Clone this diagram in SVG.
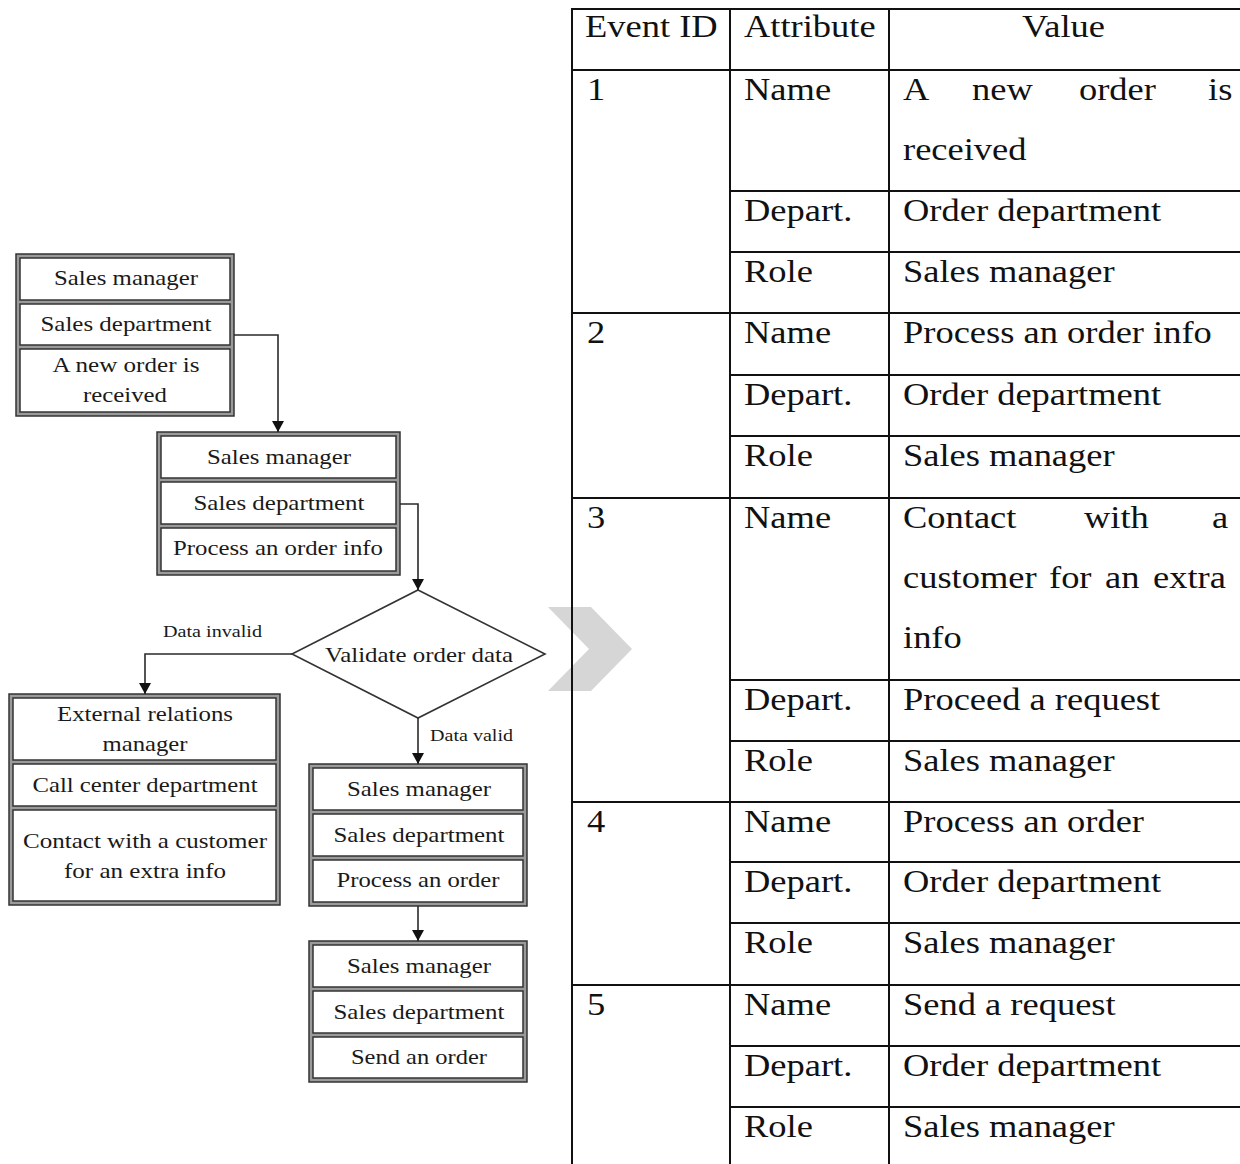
<svg xmlns="http://www.w3.org/2000/svg" width="1240" height="1164" viewBox="0 0 1240 1164">
<defs>
<style>
.frame{fill:#9a9a9a;stroke:#333;stroke-width:1.5}
.cell{fill:#fff;stroke:#333;stroke-width:1.5}
.ft{font-family:"Liberation Serif","Times New Roman",serif;font-size:21px;fill:#1a1a1a;text-anchor:middle}
.lbl{font-family:"Liberation Serif","Times New Roman",serif;font-size:17px;fill:#1a1a1a}
.conn{fill:none;stroke:#2a2a2a;stroke-width:1.6}
.tl{stroke:#111;stroke-width:2}
.tt{font-family:"Liberation Serif","Times New Roman",serif;font-size:32px;fill:#111}
</style>
<marker id="arr" markerUnits="userSpaceOnUse" markerWidth="12" markerHeight="12" refX="11" refY="6" orient="auto">
<path d="M0,0 L11,6 L0,12 z" fill="#111"/>
</marker>
</defs>
<rect width="1240" height="1164" fill="#fff"/>

<g id="node1">
<rect class="frame" x="16" y="254" width="218" height="162"/>
<rect class="cell" x="20" y="258" width="210" height="42"/>
<rect class="cell" x="20" y="304" width="210" height="41"/>
<rect class="cell" x="20" y="349" width="210" height="63"/>
<text class="ft" x="126" y="285" textLength="144" lengthAdjust="spacingAndGlyphs">Sales manager</text>
<text class="ft" x="126" y="331" textLength="171" lengthAdjust="spacingAndGlyphs">Sales department</text>
<text class="ft" x="126" y="372" textLength="147" lengthAdjust="spacingAndGlyphs">A new order is</text>
<text class="ft" x="125" y="402" textLength="84" lengthAdjust="spacingAndGlyphs">received</text>
</g>

<g id="node2">
<rect class="frame" x="157" y="432" width="243" height="143"/>
<rect class="cell" x="161" y="436" width="235" height="42"/>
<rect class="cell" x="161" y="482" width="235" height="42"/>
<rect class="cell" x="161" y="528" width="235" height="43"/>
<text class="ft" x="279" y="464" textLength="144" lengthAdjust="spacingAndGlyphs">Sales manager</text>
<text class="ft" x="279" y="510" textLength="171" lengthAdjust="spacingAndGlyphs">Sales department</text>
<text class="ft" x="278" y="555" textLength="210" lengthAdjust="spacingAndGlyphs">Process an order info</text>
</g>

<g id="decision">
<polygon points="418,590 545,654 418,718 292,654" fill="#fff" stroke="#333" stroke-width="1.6"/>
<text class="ft" x="419" y="662" textLength="188" lengthAdjust="spacingAndGlyphs">Validate order data</text>
</g>

<g id="node3">
<rect class="frame" x="9" y="694" width="271" height="211"/>
<rect class="cell" x="13" y="698" width="263" height="62"/>
<rect class="cell" x="13" y="764" width="263" height="42"/>
<rect class="cell" x="13" y="810" width="263" height="91"/>
<text class="ft" x="145" y="721" textLength="176" lengthAdjust="spacingAndGlyphs">External relations</text>
<text class="ft" x="145" y="751" textLength="85" lengthAdjust="spacingAndGlyphs">manager</text>
<text class="ft" x="145" y="792" textLength="225" lengthAdjust="spacingAndGlyphs">Call center department</text>
<text class="ft" x="145" y="848" textLength="244" lengthAdjust="spacingAndGlyphs">Contact with a customer</text>
<text class="ft" x="145" y="878" textLength="162" lengthAdjust="spacingAndGlyphs">for an extra info</text>
</g>

<g id="node4">
<rect class="frame" x="309" y="764" width="218" height="142"/>
<rect class="cell" x="313" y="768" width="210" height="42"/>
<rect class="cell" x="313" y="814" width="210" height="42"/>
<rect class="cell" x="313" y="860" width="210" height="42"/>
<text class="ft" x="419" y="796" textLength="144" lengthAdjust="spacingAndGlyphs">Sales manager</text>
<text class="ft" x="419" y="842" textLength="171" lengthAdjust="spacingAndGlyphs">Sales department</text>
<text class="ft" x="418" y="887" textLength="163" lengthAdjust="spacingAndGlyphs">Process an order</text>
</g>

<g id="node5">
<rect class="frame" x="309" y="941" width="218" height="141"/>
<rect class="cell" x="313" y="945" width="210" height="42"/>
<rect class="cell" x="313" y="991" width="210" height="42"/>
<rect class="cell" x="313" y="1037" width="210" height="41"/>
<text class="ft" x="419" y="973" textLength="144" lengthAdjust="spacingAndGlyphs">Sales manager</text>
<text class="ft" x="419" y="1019" textLength="171" lengthAdjust="spacingAndGlyphs">Sales department</text>
<text class="ft" x="419" y="1064" textLength="136" lengthAdjust="spacingAndGlyphs">Send an order</text>
</g>

<g id="connectors">
<path class="conn" d="M234,335 H278 V432" marker-end="url(#arr)"/>
<path class="conn" d="M400,504 H418 V590" marker-end="url(#arr)"/>
<path class="conn" d="M292,654 H145 V694" marker-end="url(#arr)"/>
<path class="conn" d="M418,718 V764" marker-end="url(#arr)"/>
<path class="conn" d="M418,906 V941" marker-end="url(#arr)"/>
<text class="lbl" x="163" y="637" textLength="99" lengthAdjust="spacingAndGlyphs">Data invalid</text>
<text class="lbl" x="430" y="741" textLength="83" lengthAdjust="spacingAndGlyphs">Data valid</text>
</g>

<g id="chevron">
<polygon points="548,607 591,607 632,649 591,691 548,691 589,649" fill="#d6d6d6"/>
</g>

<g id="table">
<line class="tl" x1="572" y1="9" x2="572" y2="1164"/>
<line class="tl" x1="730" y1="9" x2="730" y2="1164"/>
<line class="tl" x1="889" y1="9" x2="889" y2="1164"/>
<line class="tl" x1="571" y1="9" x2="1240" y2="9"/>
<line class="tl" x1="571" y1="70" x2="1240" y2="70"/>
<line class="tl" x1="571" y1="313" x2="1240" y2="313"/>
<line class="tl" x1="571" y1="498" x2="1240" y2="498"/>
<line class="tl" x1="571" y1="802" x2="1240" y2="802"/>
<line class="tl" x1="571" y1="985" x2="1240" y2="985"/>
<line class="tl" x1="730" y1="191" x2="1240" y2="191"/>
<line class="tl" x1="730" y1="252" x2="1240" y2="252"/>
<line class="tl" x1="730" y1="375" x2="1240" y2="375"/>
<line class="tl" x1="730" y1="436" x2="1240" y2="436"/>
<line class="tl" x1="730" y1="680" x2="1240" y2="680"/>
<line class="tl" x1="730" y1="741" x2="1240" y2="741"/>
<line class="tl" x1="730" y1="862" x2="1240" y2="862"/>
<line class="tl" x1="730" y1="923" x2="1240" y2="923"/>
<line class="tl" x1="730" y1="1046" x2="1240" y2="1046"/>
<line class="tl" x1="730" y1="1107" x2="1240" y2="1107"/>

<text class="tt" transform="translate(585,37) scale(1.14,1)">Event ID</text>
<text class="tt" transform="translate(744,37) scale(1.14,1)">Attribute</text>
<text class="tt" transform="translate(1022,37) scale(1.14,1)">Value</text>

<text class="tt" transform="translate(587,100) scale(1.14,1)">1</text>
<text class="tt" transform="translate(744,100) scale(1.14,1)">Name</text>
<text class="tt" transform="translate(903,100) scale(1.14,1)">A</text>
<text class="tt" transform="translate(972,100) scale(1.14,1)">new</text>
<text class="tt" transform="translate(1079,100) scale(1.14,1)">order</text>
<text class="tt" transform="translate(1208,100) scale(1.14,1)">is</text>
<text class="tt" transform="translate(903,160) scale(1.14,1)">received</text>
<text class="tt" transform="translate(744,221) scale(1.14,1)">Depart.</text>
<text class="tt" transform="translate(903,221) scale(1.14,1)">Order department</text>
<text class="tt" transform="translate(744,282) scale(1.14,1)">Role</text>
<text class="tt" transform="translate(903,282) scale(1.14,1)">Sales manager</text>

<text class="tt" transform="translate(587,343) scale(1.14,1)">2</text>
<text class="tt" transform="translate(744,343) scale(1.14,1)">Name</text>
<text class="tt" transform="translate(903,343) scale(1.14,1)">Process an order info</text>
<text class="tt" transform="translate(744,405) scale(1.14,1)">Depart.</text>
<text class="tt" transform="translate(903,405) scale(1.14,1)">Order department</text>
<text class="tt" transform="translate(744,466) scale(1.14,1)">Role</text>
<text class="tt" transform="translate(903,466) scale(1.14,1)">Sales manager</text>

<text class="tt" transform="translate(587,528) scale(1.14,1)">3</text>
<text class="tt" transform="translate(744,528) scale(1.14,1)">Name</text>
<text class="tt" transform="translate(903,528) scale(1.14,1)">Contact</text>
<text class="tt" transform="translate(1084,528) scale(1.14,1)">with</text>
<text class="tt" transform="translate(1212,528) scale(1.14,1)">a</text>
<text class="tt" transform="translate(903,588) scale(1.14,1)">customer</text>
<text class="tt" transform="translate(1049,588) scale(1.14,1)">for</text>
<text class="tt" transform="translate(1105,588) scale(1.14,1)">an</text>
<text class="tt" transform="translate(1153,588) scale(1.14,1)">extra</text>
<text class="tt" transform="translate(903,648) scale(1.14,1)">info</text>
<text class="tt" transform="translate(744,710) scale(1.14,1)">Depart.</text>
<text class="tt" transform="translate(903,710) scale(1.14,1)">Proceed a request</text>
<text class="tt" transform="translate(744,771) scale(1.14,1)">Role</text>
<text class="tt" transform="translate(903,771) scale(1.14,1)">Sales manager</text>

<text class="tt" transform="translate(587,832) scale(1.14,1)">4</text>
<text class="tt" transform="translate(744,832) scale(1.14,1)">Name</text>
<text class="tt" transform="translate(903,832) scale(1.14,1)">Process an order</text>
<text class="tt" transform="translate(744,892) scale(1.14,1)">Depart.</text>
<text class="tt" transform="translate(903,892) scale(1.14,1)">Order department</text>
<text class="tt" transform="translate(744,953) scale(1.14,1)">Role</text>
<text class="tt" transform="translate(903,953) scale(1.14,1)">Sales manager</text>

<text class="tt" transform="translate(587,1015) scale(1.14,1)">5</text>
<text class="tt" transform="translate(744,1015) scale(1.14,1)">Name</text>
<text class="tt" transform="translate(903,1015) scale(1.14,1)">Send a request</text>
<text class="tt" transform="translate(744,1076) scale(1.14,1)">Depart.</text>
<text class="tt" transform="translate(903,1076) scale(1.14,1)">Order department</text>
<text class="tt" transform="translate(744,1137) scale(1.14,1)">Role</text>
<text class="tt" transform="translate(903,1137) scale(1.14,1)">Sales manager</text>
</g>
</svg>
